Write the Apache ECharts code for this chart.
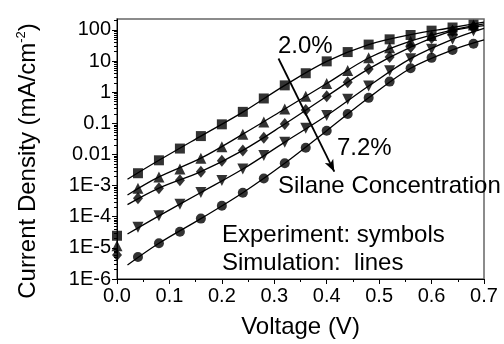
<!DOCTYPE html>
<html>
<head>
<meta charset="utf-8">
<script src="https://cdn.jsdelivr.net/npm/echarts@6/dist/echarts.min.js"></script>
<style>html,body{margin:0;padding:0;background:#fff;}#c{width:504px;height:344px;}</style>
</head>
<body>
<div id="c"></div>
<script>
// Experimental symbols (voltage in V, current density in mA/cm^2)
const voltage = [0.00,0.04,0.08,0.12,0.16,0.20,0.24,0.28,0.32,0.36,0.40,0.44,0.48,0.52,0.56,0.60,0.64,0.68];
const expSquare   = [2.45e-5,2.5e-3,6.5e-3,0.0155,0.039,0.093,0.234,0.63,1.66,4.07,9.8,19.5,33.9,50,69,95,120,148];
const expTriangle = [1.17e-5,8.3e-4,1.9e-3,3.4e-3,7.6e-3,0.0178,0.0447,0.11,0.29,0.74,1.9,5.0,12.7,27,43.5,67,100,144];
const expDiamond  = [5.9e-6,3.9e-4,8.3e-4,1.5e-3,2.8e-3,6.3e-3,0.0135,0.0347,0.095,0.27,0.74,2.1,5.6,13.5,28,55,93,124];
const expDown     = [null,4.6e-5,1.07e-4,2.5e-4,6.0e-4,1.45e-3,3.4e-3,9.3e-3,0.0248,0.069,0.178,0.59,1.58,4.9,12,24,50,93];
const expCircle   = [null,5.1e-6,1.4e-5,3.3e-5,8.7e-5,2.24e-4,5.9e-4,1.7e-3,5.2e-3,0.0164,0.058,0.20,0.66,2.19,5.9,12.7,22.9,36];

// Simulation lines
const simVoltage  = [0.02,0.08,0.16,0.24,0.32,0.40,0.48,0.56,0.64,0.70];
const simSquare   = [1.6e-3,6.5e-3,0.039,0.23,1.66,9.8,34,71,120,178];
const simTriangle = [5.0e-4,1.9e-3,7.6e-3,0.045,0.29,1.9,12.6,44,100,158];
const simDiamond  = [2.45e-4,8.3e-4,2.8e-3,0.0135,0.095,0.74,5.6,28,93,138];
const simDown     = [2.8e-5,1.07e-4,6.0e-4,3.4e-3,0.025,0.178,1.58,12,50,112];
const simCircle   = [2.8e-6,1.4e-5,8.7e-5,5.9e-4,5.2e-3,0.058,0.66,5.9,22.9,48];

// Tick labels
const xTickLabels = ['0.0','0.1','0.2','0.3','0.4','0.5','0.6','0.7'];
const yTickLabels = ['1E-6','1E-5','1E-4','1E-3','0.01','0.1','1','10','100'];

// Arrow annotation (2.0% -> 7.2%)
const arrowStart = [0.308, 12.1];
const arrowEnd   = [0.4145, 2.8e-3];

const FONT = '"Liberation Sans", Arial, sans-serif';

function pairs(xs, ys){
  const out = [];
  for (let i = 0; i < xs.length; i++) if (ys[i] != null) out.push([xs[i], ys[i]]);
  return out;
}
const minorVals = [];
for (let e = -6; e <= 2; e++) for (let m = 2; m <= 9; m++) { const v = m * Math.pow(10, e); if (v < 225) minorVals.push(v); }

const symbolDefs = [
  {name:'2.0%', data: expSquare, symbol:'rect', size:10, rot:0},
  {name:'s2', data: expTriangle, symbol:'triangle', size:11, rot:0},
  {name:'s3', data: expDiamond, symbol:'diamond', size:[10,12], rot:0},
  {name:'s4', data: expDown, symbol:'triangle', size:11, rot:180},
  {name:'7.2%', data: expCircle, symbol:'circle', size:10, rot:0}
];
const simDefs = [simSquare, simTriangle, simDiamond, simDown, simCircle];

const series = [];
simDefs.forEach((d, i) => {
  series.push({
    type:'line', xAxisIndex:0, yAxisIndex:0, data: pairs(simVoltage, d),
    showSymbol:false, smooth:0.35, silent:true, z:2,
    lineStyle:{color:'#000', width:1.3}
  });
});
symbolDefs.forEach(s => {
  series.push({
    type:'scatter', name:s.name, xAxisIndex:0, yAxisIndex:0, data: pairs(voltage, s.data),
    symbol:s.symbol, symbolSize:s.size, symbolRotate:s.rot, silent:true, z:3,
    itemStyle:{color:'#000'}
  });
});
series[0].markLine = {
  silent:true, symbol:['none','arrow'], symbolSize:[7,12],
  label:{show:false},
  lineStyle:{color:'#000', width:1.8, type:'solid'},
  data:[[{coord:arrowStart},{coord:arrowEnd}]]
};

const chart = echarts.init(document.getElementById('c'), null, {renderer:'canvas'});
chart.setOption({
  animation:false,
  backgroundColor:'#fff',
  textStyle:{fontFamily:FONT},
  grid:{left:117, right:20, top:19, bottom:61, show:true, borderColor:'#666', borderWidth:1.5},
  xAxis:[{
    type:'value', min:0, max:0.7, interval:0.1,
    axisLine:{show:true, onZero:false, lineStyle:{color:'#000', width:1}},
    axisTick:{show:true, inside:false, length:5, lineStyle:{color:'#000'}},
    minorTick:{show:true, splitNumber:2, length:3, lineStyle:{color:'#000'}},
    splitLine:{show:false},
    axisLabel:{margin:7, color:'#000', fontSize:20, fontFamily:FONT,
      formatter:(v)=>{ const i = Math.round(v*10); return Math.abs(v*10-i)<1e-6 ? xTickLabels[i] : ''; }},
    name:'Voltage (V)', nameLocation:'middle', nameGap:36,
    nameTextStyle:{color:'#000', fontSize:24, fontFamily:FONT}
  }],
  yAxis:[{
    type:'log', logBase:10, min:1e-6, max:225,
    axisLine:{show:true, lineStyle:{color:'#000', width:1}},
    axisTick:{show:true, inside:false, length:5, lineStyle:{color:'#000'}},
    minorTick:{show:false},
    splitLine:{show:false},
    axisLabel:{margin:6, color:'#000', fontSize:20, fontFamily:FONT, showMaxLabel:false,
      formatter:(v)=>{ const l = Math.log10(v); const e = Math.round(l); if (Math.abs(l-e)>1e-6) return ''; return yTickLabels[e+6] || ''; }}
  },{
    type:'log', logBase:10, min:1e-6, max:225, position:'left',
    axisLine:{show:false},
    axisTick:{show:true, inside:false, length:3, customValues:minorVals, lineStyle:{color:'#000'}},
    axisLabel:{show:false}, splitLine:{show:false}
  }],
  graphic:[
    {type:'text', x:28, y:161, rotation:Math.PI/2, silent:true,
     style:{text:'{a|Current Density (mA/cm}{s|-2}{a|)}', align:'center', verticalAlign:'middle', fill:'#000',
       rich:{a:{fontSize:24, fontFamily:FONT, fill:'#000', lineHeight:26}, s:{fontSize:13, fontFamily:FONT, fill:'#000', verticalAlign:'top', lineHeight:26}}}},
    {type:'text', x:278, y:34, silent:true, style:{text:'2.0%', fontSize:24, fontFamily:FONT, fill:'#000'}},
    {type:'text', x:337, y:136, silent:true, style:{text:'7.2%', fontSize:24, fontFamily:FONT, fill:'#000'}},
    {type:'text', x:278, y:174, silent:true, style:{text:'Silane Concentration', fontSize:24, fontFamily:FONT, fill:'#000'}},
    {type:'text', x:222, y:223, silent:true, style:{text:'Experiment: symbols', fontSize:24, fontFamily:FONT, fill:'#000'}},
    {type:'text', x:222, y:251, silent:true, style:{text:'Simulation:  lines', fontSize:24, fontFamily:FONT, fill:'#000'}}
  ],
  series: series
});
</script>
</body>
</html>
